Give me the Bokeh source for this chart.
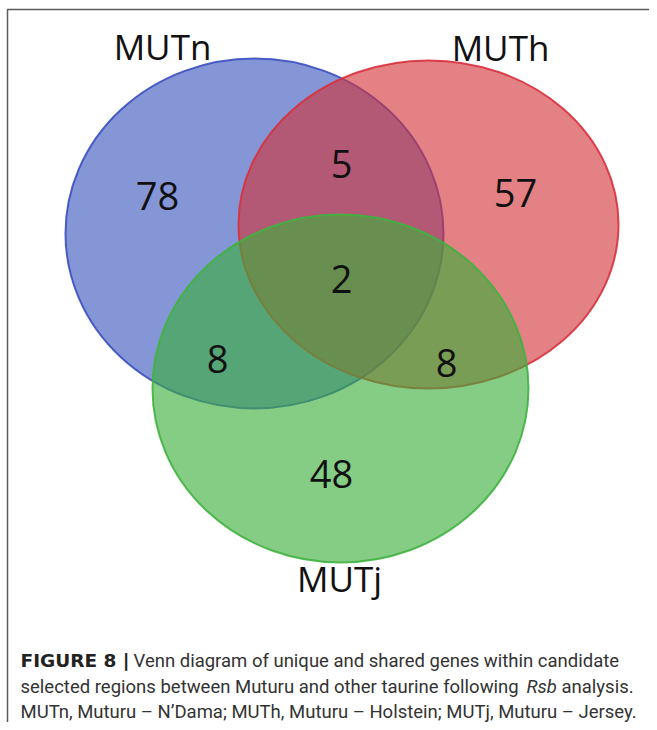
from bokeh.plotting import figure
from bokeh.models import Range1d
from bokeh.core.properties import value
from bokeh.embed import file_html
from bokeh.resources import INLINE

# ---- data ----
set_names = ["MUTn", "MUTh", "MUTj"]
only_counts = [78, 57, 48]          # MUTn only, MUTh only, MUTj only
pair_labels = ["MUTn\u2229MUTh", "MUTn\u2229MUTj", "MUTh\u2229MUTj"]
pair_counts = [5, 8, 8]
triple_count = 2

caption_bold = "FIGURE 8 |"
caption_l1 = "Venn diagram of unique and shared genes within candidate"
caption_l2a = "selected regions between Muturu and other taurine following"
caption_l2b = "Rsb"
caption_l2c = "analysis."
caption_l3 = "MUTn, Muturu \u2013 N\u2019Dama; MUTh, Muturu \u2013 Holstein; MUTj, Muturu \u2013 Jersey."

# ---- layout (screen pixel coordinates) ----
W, H = 649, 722
circle_cx = [254, 428, 340]
circle_cy = [233, 224, 388]
circle_rx = [189, 190, 188]
circle_ry = [175, 164, 174]
fills = ["#3a55be", "#d23438", "#3aae3a"]
lines = ["#3a4fc2", "#d8303c", "#3fb23f"]
name_x = [162, 500, 339]
name_y = [46, 47, 578]
only_x = [157, 515, 331]
only_y = [195, 192, 473]
pair_x = [341, 217, 446]
pair_y = [163, 358, 362]
triple_xy = (341, 278)

p = figure(width=W, height=H, x_range=Range1d(0, W), y_range=Range1d(H, 0),
           output_backend="svg", toolbar_location=None, min_border=0,
           x_axis_type=None, y_axis_type=None)
p.grid.visible = False
p.outline_line_color = None
p.background_fill_color = "white"
p.border_fill_color = "white"

# frame (left and top edges visible; right/bottom fall outside the view)
p.quad(left=[7], right=[W + 20], top=[9], bottom=[H + 20], fill_color=None,
       line_color="#5a5a5a", line_width=1.5)

for i in range(3):
    p.ellipse(x=[circle_cx[i]], y=[circle_cy[i]], width=[2 * circle_rx[i]], height=[2 * circle_ry[i]],
              fill_color=fills[i], fill_alpha=0.62, line_color=lines[i], line_alpha=0.9, line_width=2)

num_font = value("Open Sans")
p.text(x=name_x, y=name_y, text=set_names, text_font=num_font, text_font_size="35px",
       text_align="center", text_baseline="middle", text_color="#111111")
p.text(x=only_x, y=only_y, text=[str(v) for v in only_counts], text_font=num_font,
       text_font_size="38px", text_align="center", text_baseline="middle", text_color="#111111")
p.text(x=pair_x, y=pair_y, text=[str(v) for v in pair_counts], text_font=num_font,
       text_font_size="38px", text_align="center", text_baseline="middle", text_color="#111111")
p.text(x=[triple_xy[0]], y=[triple_xy[1]], text=[str(triple_count)], text_font=num_font,
       text_font_size="38px", text_align="center", text_baseline="middle", text_color="#111111")

cap_font = value("Roboto")
cs = "18.5px"
p.text(x=[20], y=[660], text=[caption_bold], text_font=value("DejaVu Sans"), text_font_size=cs,
       text_font_style="bold", text_baseline="middle", text_color="#222222")
p.text(x=[133], y=[660], text=[caption_l1], text_font=cap_font, text_font_size=cs,
       text_baseline="middle", text_color="#333333")
p.text(x=[20], y=[686], text=[caption_l2a], text_font=cap_font, text_font_size=cs,
       text_baseline="middle", text_color="#333333")
p.text(x=[526], y=[686], text=[caption_l2b], text_font=cap_font, text_font_size=cs,
       text_font_style="italic", text_baseline="middle", text_color="#333333")
p.text(x=[561], y=[686], text=[caption_l2c], text_font=cap_font, text_font_size=cs,
       text_baseline="middle", text_color="#333333")
p.text(x=[20], y=[711], text=[caption_l3], text_font=cap_font, text_font_size=cs,
       text_baseline="middle", text_color="#333333")

open("out.html", "w").write(file_html(p, INLINE))
